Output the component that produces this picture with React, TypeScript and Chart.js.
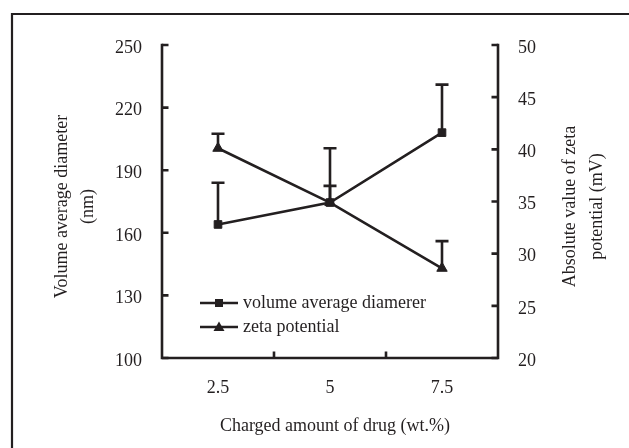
import { useEffect, useRef } from "react";
import { Chart, registerables } from "chart.js";

Chart.register(...registerables);

// Drug loading (wt.%) on the category axis
const drugLoading = ["2.5", "5", "7.5"];

// Volume average diameter (nm), left axis, with upper error bars
const diameterNm = [164, 174.5, 208];
const diameterErr = [20, 26, 23];

// Absolute zeta potential (mV), right axis, with upper error bars
const zetaMv = [40.1, 34.9, 28.6];
const zetaErr = [1.4, 1.6, 2.6];

// Axis ranges
const diameterRange = { min: 100, max: 250, step: 30 };
const zetaRange = { min: 20, max: 50, step: 5 };

const seriesLabels = ["volume average diamerer", "zeta potential"];
const axisTitles = {
  x: "Charged amount of drug (wt.%)",
  left: ["Volume average diameter", "(nm)"],
  right: ["Absolute value of zeta", "potential (mV)"],
};

const INK = "#231f20";
const FONT = '18px "Liberation Serif", "Times New Roman", serif';
const STROKE = 2.6;

const errorBars = [diameterErr, zetaErr];

const figurePlugin = {
  id: "figureDecor",
  beforeDraw(chart: any) {
    const { ctx, width, height } = chart;
    ctx.save();
    ctx.fillStyle = "#ffffff";
    ctx.fillRect(0, 0, width, height);
    // outer frame (left and top edges)
    ctx.strokeStyle = INK;
    ctx.lineWidth = 2.2;
    ctx.beginPath();
    ctx.moveTo(12, height);
    ctx.lineTo(12, 14);
    ctx.lineTo(width, 14);
    ctx.stroke();
    ctx.restore();
  },
  beforeDatasetsDraw(chart: any) {
    const { ctx, scales } = chart;
    ctx.save();
    ctx.strokeStyle = INK;
    ctx.lineWidth = STROKE;
    chart.data.datasets.forEach((ds: any, di: number) => {
      const yScale = scales[ds.yAxisID];
      ds.data.forEach((v: number, i: number) => {
        const x = scales.x.getPixelForValue(i);
        const y0 = yScale.getPixelForValue(v);
        const y1 = yScale.getPixelForValue(v + errorBars[di][i]);
        ctx.beginPath();
        ctx.moveTo(x, y0);
        ctx.lineTo(x, y1);
        ctx.moveTo(x - 6.5, y1);
        ctx.lineTo(x + 6.5, y1);
        ctx.stroke();
      });
    });
    ctx.restore();
  },
  afterDatasetsDraw(chart: any) {
    const { ctx, chartArea: a, scales } = chart;
    const tick = 6.5;
    ctx.save();
    ctx.strokeStyle = INK;
    ctx.lineWidth = STROKE;
    ctx.lineCap = "square";
    // axis lines: left, bottom, right
    ctx.beginPath();
    ctx.moveTo(a.left, a.top);
    ctx.lineTo(a.left, a.bottom);
    ctx.lineTo(a.right, a.bottom);
    ctx.lineTo(a.right, a.top);
    ctx.stroke();
    ctx.lineCap = "butt";
    // inward tick marks
    ctx.beginPath();
    scales.y.ticks.forEach((t: any) => {
      const y = scales.y.getPixelForValue(t.value);
      ctx.moveTo(a.left, y);
      ctx.lineTo(a.left + tick, y);
    });
    scales.y1.ticks.forEach((t: any) => {
      const y = scales.y1.getPixelForValue(t.value);
      ctx.moveTo(a.right, y);
      ctx.lineTo(a.right - tick, y);
    });
    for (let i = 1; i < drugLoading.length; i++) {
      const x = (scales.x.getPixelForValue(i - 1) + scales.x.getPixelForValue(i)) / 2;
      ctx.moveTo(x, a.bottom);
      ctx.lineTo(x, a.bottom - tick);
    }
    ctx.stroke();

    // legend inside the plot
    ctx.font = FONT;
    ctx.fillStyle = INK;
    ctx.textBaseline = "middle";
    ctx.textAlign = "left";
    chart.data.datasets.forEach((ds: any, di: number) => {
      const y = a.bottom - 55 + di * 24;
      const x0 = a.left + 38;
      const x1 = a.left + 76;
      ctx.lineWidth = STROKE;
      ctx.beginPath();
      ctx.moveTo(x0, y);
      ctx.lineTo(x1, y);
      ctx.stroke();
      const cx = (x0 + x1) / 2;
      ctx.beginPath();
      if (ds.pointStyle === "rect") {
        ctx.rect(cx - 4, y - 4, 8, 8);
      } else {
        ctx.moveTo(cx, y - 5.5);
        ctx.lineTo(cx + 5.5, y + 4);
        ctx.lineTo(cx - 5.5, y + 4);
        ctx.closePath();
      }
      ctx.fill();
      ctx.fillText(ds.label, x1 + 5, y);
    });

    // axis titles
    const cy = (a.top + a.bottom) / 2 + 5;
    ctx.textAlign = "center";
    const drawRotated = (lines: string[], x: number, gap: number) => {
      ctx.save();
      ctx.translate(x, cy);
      ctx.rotate(-Math.PI / 2);
      lines.forEach((s, k) => ctx.fillText(s, 0, k * gap));
      ctx.restore();
    };
    drawRotated(axisTitles.left, a.left - 100, 26);
    drawRotated(axisTitles.right, a.right + 72, 27);
    ctx.fillText(axisTitles.x, (a.left + a.right) / 2 + 5, a.bottom + 68);
    ctx.restore();
  },
};

export default function App() {
  const canvasRef = useRef<HTMLCanvasElement | null>(null);

  useEffect(() => {
    const canvas = canvasRef.current;
    if (!canvas) return;
    const tickFont = { family: '"Liberation Serif", "Times New Roman", serif', size: 18 };
    const chart = new Chart(canvas, {
      type: "line",
      data: {
        labels: drugLoading,
        datasets: [
          {
            label: seriesLabels[0],
            data: diameterNm,
            yAxisID: "y",
            borderColor: INK,
            backgroundColor: INK,
            borderWidth: STROKE,
            pointStyle: "rect",
            pointRadius: 5.4,
            pointBorderWidth: 1,
            pointBackgroundColor: INK,
            pointBorderColor: INK,
            tension: 0,
          },
          {
            label: seriesLabels[1],
            data: zetaMv,
            yAxisID: "y1",
            borderColor: INK,
            backgroundColor: INK,
            borderWidth: STROKE,
            pointStyle: "triangle",
            pointRadius: 6,
            pointBorderWidth: 1,
            pointBackgroundColor: INK,
            pointBorderColor: INK,
            tension: 0,
          },
        ],
      },
      options: {
        responsive: false,
        animation: false,
        events: [],
        layout: { padding: { top: 45, left: 0, right: 0, bottom: 0 } },
        plugins: {
          legend: { display: false },
          tooltip: { enabled: false },
        },
        scales: {
          x: {
            type: "category",
            offset: true,
            grid: { display: false, drawTicks: false },
            border: { display: false },
            ticks: { color: INK, font: tickFont, padding: 19, maxRotation: 0 },
            afterFit: (s: any) => {
              s.height = 90;
            },
          },
          y: {
            position: "left",
            min: diameterRange.min,
            max: diameterRange.max,
            grid: { display: false, drawTicks: false },
            border: { display: false },
            ticks: { stepSize: diameterRange.step, color: INK, font: tickFont, padding: 20, labelOffset: 3 },
            afterFit: (s: any) => {
              s.width = 162;
            },
          },
          y1: {
            position: "right",
            min: zetaRange.min,
            max: zetaRange.max,
            grid: { display: false, drawTicks: false },
            border: { display: false },
            ticks: { stepSize: zetaRange.step, color: INK, font: tickFont, padding: 20, labelOffset: 3 },
            afterFit: (s: any) => {
              s.width = 131;
            },
          },
        },
      },
      plugins: [figurePlugin],
    } as any);
    return () => chart.destroy();
  }, []);

  return (
    <div style={{ position: "fixed", left: 0, top: 0, width: 629, height: 448, background: "#fff" }}>
      <canvas ref={canvasRef} width={629} height={448} style={{ display: "block" }} />
    </div>
  );
}
